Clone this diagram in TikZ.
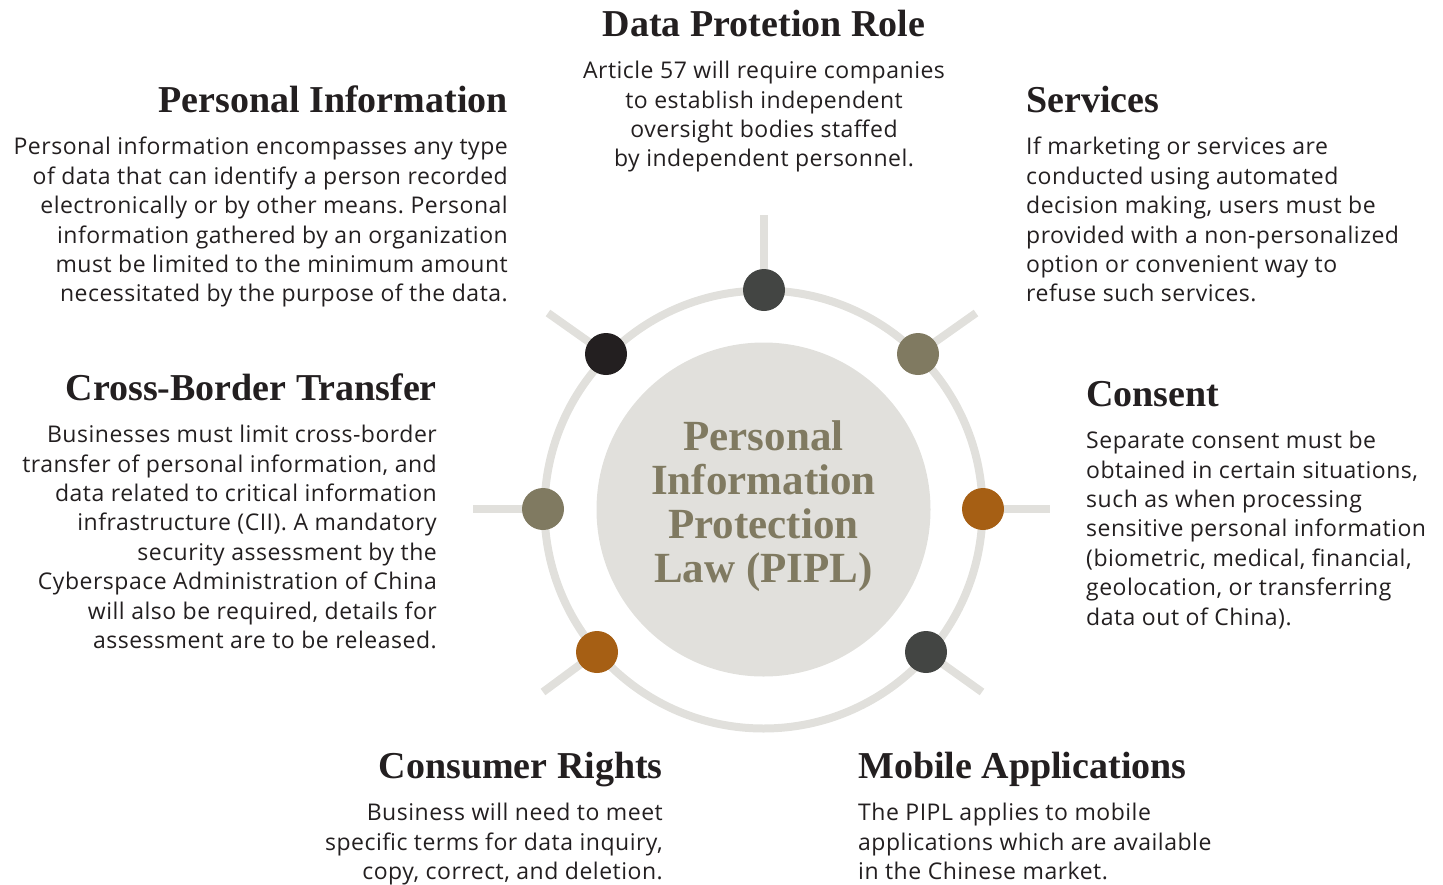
\documentclass[tikz,border=0pt]{standalone}
\usepackage{fontspec}
\setmainfont{Liberation Serif}
\setsansfont[LetterSpace=2.2]{Open Sans}
\usetikzlibrary{positioning}
\usepackage{xcolor}
\definecolor{ringGray}{HTML}{E1E0DC}
\definecolor{dotDark}{HTML}{434543}
\definecolor{dotOlive}{HTML}{807A61}
\definecolor{dotOrange}{HTML}{A65F14}
\definecolor{dotBlack}{HTML}{231F20}
\definecolor{inkText}{HTML}{231F20}
\frenchspacing
\tikzset{
    % Ring and dots
    dot/.style={circle, minimum size=42pt, inner sep=0pt},
    spoke/.style={line width=8pt, ringGray},
    ring/.style={line width=8pt, ringGray},
    hub/.style={circle, minimum size=334pt, inner sep=0pt, align=center,
                text=dotOlive, font=\fontsize{43}{44}\selectfont\bfseries},
    % Texts
    head/.style={inner sep=0pt, text=inkText, font=\fontsize{38}{40}\selectfont\bfseries},
    body/.style={inner sep=0pt, text=inkText, font=\sffamily\fontsize{23}{29.4}\selectfont}
}

\begin{document}
\begin{tikzpicture}[x=1pt, y=-1pt]
\useasboundingbox (0,0) rectangle (1443,884);

% Spokes
\coordinate (dpEnd) at (764,215);
\coordinate (svEnd) at (976,313);
\coordinate (coEnd) at (1050,509);
\coordinate (maEnd) at (982,692);
\coordinate (crEnd) at (543,692);
\coordinate (cbEnd) at (473,509);
\coordinate (piEnd) at (548,313);

\coordinate (center) at (763.5,509.5);
\node[dot] (dpDot) at (764,290) {};
\node[dot] (svDot) at (918,354) {};
\node[dot] (coDot) at (983,509) {};
\node[dot] (maDot) at (926,652) {};
\node[dot] (crDot) at (597,652) {};
\node[dot] (cbDot) at (543,509) {};
\node[dot] (piDot) at (606,354) {};

\foreach \d/\e in {dpDot/dpEnd, svDot/svEnd, coDot/coEnd, maDot/maEnd,
                   crDot/crEnd, cbDot/cbEnd, piDot/piEnd}
    \draw[spoke] (\d.center) -- (\e);

% Ring and hub
\draw[ring] (center) circle[radius=219];
\fill[ringGray] (center) circle[radius=167];
\node[hub, yshift=3pt] (law) at (center) {Personal\\Information\\Protection\\Law (PIPL)};

% Dots on top
\fill[dotDark] (dpDot) circle[radius=21];
\fill[dotOlive] (svDot) circle[radius=21];
\fill[dotOrange] (coDot) circle[radius=21];
\fill[dotDark] (maDot) circle[radius=21];
\fill[dotOrange] (crDot) circle[radius=21];
\fill[dotOlive] (cbDot) circle[radius=21];
\fill[dotBlack] (piDot) circle[radius=21];

% Headings
\node[head, anchor=base] (dpHead) at (764,36) {Data Protetion Role};
\node[head, anchor=base east] (piHead) at (508,112) {Personal Information};
\node[head, anchor=base west] (svHead) at (1026,112) {Services};
\node[head, anchor=base east] (cbHead) at (437,400) {Cross-Border Transfer};
\node[head, anchor=base west] (coHead) at (1086,406) {Consent};
\node[head, anchor=base east] (crHead) at (663,778) {Consumer Rights};
\node[head, anchor=base west] (maHead) at (858,778) {Mobile Applications};

% Texts
\node[body, align=center, anchor=north] (dpText) at ([yshift=-25pt]dpHead.base)
    {Article 57 will require companies\\to establish independent\\oversight bodies staffed\\by independent personnel.};
\node[body, align=right, anchor=north east] (piText) at ([yshift=-25pt]piHead.base east)
    {Personal information encompasses any type\\of data that can identify a person recorded\\electronically or by other means. Personal\\information gathered by an organization\\must be limited to the minimum amount\\necessitated by the purpose of the data.};
\node[body, align=left, anchor=north west] (svText) at ([yshift=-25pt]svHead.base west)
    {If marketing or services are\\conducted using automated\\decision making, users must be\\provided with a non-personalized\\option or convenient way to\\refuse such services.};
\node[body, align=right, anchor=north east] (cbText) at ([yshift=-25pt]cbHead.base east)
    {Businesses must limit cross-border\\transfer of personal information, and\\data related to critical information\\infrastructure (CII). A mandatory\\security assessment by the\\Cyberspace Administration of China\\will also be required, details for\\assessment are to be released.};
\node[body, align=left, anchor=north west] (coText) at ([yshift=-25pt]coHead.base west)
    {Separate consent must be\\obtained in certain situations,\\such as when processing\\sensitive personal information\\(biometric, medical, financial,\\geolocation, or transferring\\data out of China).};
\node[body, align=right, anchor=north east] (crText) at ([yshift=-25pt]crHead.base east)
    {Business will need to meet\\specific terms for data inquiry,\\copy, correct, and deletion.};
\node[body, align=left, anchor=north west] (maText) at ([yshift=-25pt]maHead.base west)
    {The PIPL applies to mobile\\applications which are available\\in the Chinese market.};

\end{tikzpicture}
\end{document}
